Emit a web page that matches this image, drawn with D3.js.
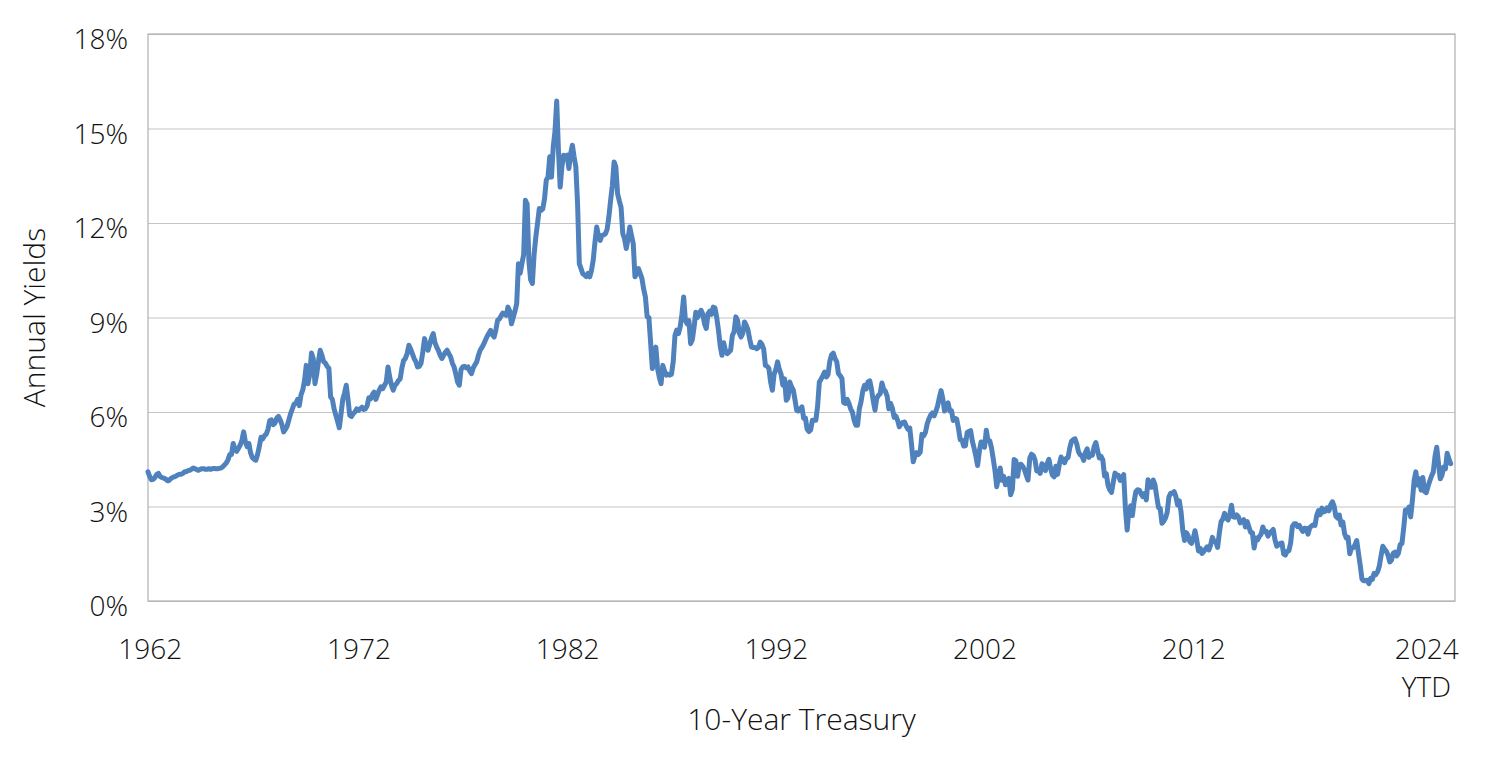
<!DOCTYPE html>
<html>
<head>
<meta charset="utf-8">
<script src="https://cdnjs.cloudflare.com/ajax/libs/d3/7.8.5/d3.min.js"></script>
<style>
  body { margin: 0; background: #fff; }
  text { font-family: "Open Sans", "Noto Sans", sans-serif; font-weight: 300; fill: #111; }
</style>
</head>
<body>
<div id="chart"></div>
<script>
// 10-year Treasury yield (%), month-end, Jan 1962 - Jun 2024
var yields1960s = [
    4.10, 3.95, 3.85, 3.86, 3.92, 4.02, 4.05, 3.95, 3.92, 3.90, 3.88, 3.82,
    3.82, 3.88, 3.92, 3.94, 3.96, 4.00, 4.02, 4.02, 4.05, 4.10, 4.10, 4.14,
    4.15, 4.18, 4.22, 4.20, 4.17, 4.15, 4.18, 4.20, 4.20, 4.18, 4.18, 4.20,
    4.18, 4.20, 4.21, 4.20, 4.20, 4.21, 4.22, 4.26, 4.32, 4.38, 4.48, 4.65,
    4.65, 5.00, 4.80, 4.75, 4.85, 4.95, 5.10, 5.37, 5.05, 4.90, 5.00, 4.70,
    4.55, 4.50, 4.47, 4.65, 4.90, 5.20, 5.15, 5.25, 5.30, 5.45, 5.73, 5.75,
    5.60, 5.65, 5.80, 5.86, 5.75, 5.60, 5.37, 5.45, 5.55, 5.75, 5.95, 6.10,
    6.25, 6.27, 6.40, 6.20, 6.55, 6.70, 7.00, 7.48, 6.90, 7.20, 7.87, 7.70
];
var yields1970s = [
    6.90, 7.20, 7.60, 7.96, 7.80, 7.60, 7.55, 7.45, 7.39, 6.48, 6.40, 6.10,
    5.90, 5.70, 5.50, 5.95, 6.40, 6.60, 6.85, 6.40, 5.90, 5.86, 5.95, 6.00,
    6.10, 6.05, 6.10, 6.15, 6.08, 6.10, 6.20, 6.45, 6.42, 6.55, 6.63, 6.40,
    6.55, 6.70, 6.80, 6.74, 6.85, 6.95, 7.43, 7.10, 6.85, 6.69, 6.85, 6.90,
    7.00, 7.05, 7.40, 7.64, 7.70, 7.85, 8.12, 8.00, 7.85, 7.70, 7.60, 7.43,
    7.45, 7.55, 7.90, 8.33, 8.10, 7.96, 8.15, 8.35, 8.49, 8.20, 8.06, 7.95,
    7.80, 7.70, 7.80, 7.90, 7.96, 7.85, 7.75, 7.55, 7.43, 7.20, 6.95, 6.85,
    7.35, 7.43, 7.45, 7.40, 7.43, 7.30, 7.22, 7.40, 7.50, 7.59, 7.80, 7.96,
    8.05, 8.15, 8.28, 8.40, 8.50, 8.59, 8.45, 8.38, 8.60, 8.91, 8.95, 9.05,
    9.14, 9.10, 9.07, 9.33, 9.20, 8.80, 9.00, 9.20, 9.44, 10.71, 10.40, 10.71
];
var yields1980s = [
    11.00, 12.72, 12.60, 10.80, 10.20, 10.08, 11.00, 11.56, 12.00, 12.46, 12.40, 12.45,
    12.77, 13.36, 13.46, 14.10, 13.46, 14.41, 14.90, 15.87, 14.30, 13.14, 13.80, 14.15,
    14.10, 14.15, 13.73, 14.20, 14.47, 14.10, 13.78, 12.60, 10.71, 10.55, 10.39, 10.35,
    10.30, 10.40, 10.29, 10.50, 10.82, 11.40, 11.87, 11.60, 11.45, 11.60, 11.62, 11.66,
    11.80, 12.20, 12.72, 13.20, 13.94, 13.78, 12.93, 12.70, 12.50, 11.66, 11.50, 11.19,
    11.50, 11.87, 11.60, 11.35, 10.29, 10.40, 10.55, 10.40, 10.24, 9.90, 9.65, 9.02,
    9.00, 8.20, 7.38, 7.70, 8.06, 7.38, 7.10, 6.90, 7.48, 7.30, 7.17, 7.20,
    7.17, 7.20, 7.60, 8.43, 8.60, 8.49, 8.70, 9.10, 9.65, 8.91, 8.80, 8.90,
    8.17, 8.30, 8.70, 9.17, 9.00, 9.12, 9.23, 9.10, 8.80, 8.65, 9.12, 9.20,
    9.10, 9.33, 9.30, 9.00, 8.60, 8.10, 7.80, 8.20, 7.96, 7.85, 7.90, 7.96
];
var yields1990s = [
    8.43, 8.55, 9.02, 8.90, 8.50, 8.38, 8.50, 8.86, 8.75, 8.60, 8.30, 8.06,
    8.05, 8.05, 8.01, 8.05, 8.22, 8.15, 8.00, 7.48, 7.45, 7.38, 6.95, 6.69,
    7.20, 7.35, 7.59, 7.35, 7.20, 6.85, 7.05, 6.37, 6.45, 6.95, 6.80, 6.70,
    6.39, 6.05, 6.03, 6.10, 6.16, 5.80, 5.81, 5.45, 5.38, 5.43, 5.74, 5.74,
    5.74, 6.18, 6.95, 7.04, 7.15, 7.27, 7.11, 7.19, 7.60, 7.81, 7.87, 7.70,
    7.60, 7.22, 7.15, 7.07, 6.30, 6.27, 6.40, 6.28, 6.10, 6.00, 5.74, 5.58,
    5.58, 6.10, 6.33, 6.67, 6.85, 6.73, 6.95, 6.99, 6.72, 6.36, 6.06, 6.43,
    6.53, 6.58, 6.92, 6.72, 6.66, 6.50, 6.10, 6.27, 6.12, 5.83, 5.87, 5.74,
    5.53, 5.62, 5.67, 5.68, 5.55, 5.45, 5.49, 4.98, 4.42, 4.61, 4.71, 4.65,
    4.72, 5.29, 5.24, 5.35, 5.62, 5.78, 5.90, 5.97, 5.88, 6.02, 6.19, 6.45
];
var yields2000s = [
    6.68, 6.42, 6.03, 6.23, 6.29, 6.03, 6.04, 5.73, 5.80, 5.77, 5.48, 5.12,
    5.11, 4.92, 4.93, 5.35, 5.38, 5.41, 5.07, 4.85, 4.60, 4.30, 4.75, 5.05,
    5.03, 4.88, 5.42, 5.09, 5.08, 4.86, 4.51, 4.14, 3.63, 3.93, 4.22, 3.83,
    3.96, 3.69, 3.83, 3.89, 3.37, 3.54, 4.49, 4.45, 3.96, 4.33, 4.34, 4.27,
    4.16, 3.99, 3.84, 4.53, 4.66, 4.62, 4.48, 4.13, 4.14, 4.05, 4.36, 4.24,
    4.14, 4.36, 4.50, 4.21, 4.00, 3.94, 4.28, 4.02, 4.34, 4.57, 4.49, 4.39,
    4.53, 4.55, 4.86, 5.07, 5.12, 5.15, 4.99, 4.74, 4.64, 4.61, 4.46, 4.71,
    4.83, 4.56, 4.65, 4.63, 4.90, 5.03, 4.78, 4.54, 4.59, 4.48, 3.97, 4.04,
    3.67, 3.53, 3.45, 3.77, 4.06, 3.99, 3.99, 3.83, 3.85, 4.01, 2.93, 2.25,
    2.87, 3.02, 2.71, 3.16, 3.47, 3.53, 3.52, 3.40, 3.31, 3.41, 3.21, 3.85
];
var yields2010s = [
    3.63, 3.61, 3.84, 3.69, 3.31, 2.97, 2.94, 2.47, 2.53, 2.63, 2.81, 3.30,
    3.42, 3.42, 3.47, 3.32, 3.05, 3.18, 2.82, 2.23, 1.92, 2.17, 2.08, 1.89,
    1.83, 1.98, 2.23, 1.95, 1.59, 1.67, 1.51, 1.57, 1.65, 1.72, 1.62, 1.78,
    2.02, 1.89, 1.87, 1.70, 2.16, 2.52, 2.60, 2.78, 2.64, 2.57, 2.75, 3.04,
    2.67, 2.66, 2.73, 2.67, 2.48, 2.53, 2.58, 2.35, 2.52, 2.35, 2.18, 2.17,
    1.68, 2.00, 1.94, 2.05, 2.12, 2.35, 2.20, 2.21, 2.06, 2.16, 2.21, 2.27,
    1.94, 1.74, 1.78, 1.83, 1.84, 1.49, 1.46, 1.58, 1.60, 1.84, 2.37, 2.45,
    2.45, 2.36, 2.40, 2.29, 2.21, 2.31, 2.30, 2.12, 2.33, 2.38, 2.42, 2.40,
    2.72, 2.87, 2.74, 2.95, 2.83, 2.85, 2.96, 2.86, 3.05, 3.15, 3.01, 2.69,
    2.63, 2.73, 2.41, 2.51, 2.14, 2.00, 2.02, 1.50, 1.68, 1.69, 1.78, 1.92
];
var yields2020s = [
    1.51, 1.13, 0.70, 0.64, 0.65, 0.66, 0.55, 0.72, 0.69, 0.88, 0.84, 0.93,
    1.11, 1.44, 1.74, 1.65, 1.58, 1.45, 1.24, 1.30, 1.52, 1.55, 1.43, 1.52,
    1.79, 1.83, 2.32, 2.89, 2.85, 2.98, 2.67, 3.19, 3.83, 4.10, 3.68, 3.88,
    3.52, 3.92, 3.48, 3.44, 3.64, 3.81, 3.97, 4.09, 4.59, 4.88, 4.37, 3.88,
    3.99, 4.25, 4.20, 4.69, 4.51, 4.36
];

var yTicks = [0, 3, 6, 9, 12, 15, 18];
var xTickLabels = ["1962", "1972", "1982", "1992", "2002", "2012", "2024"];
var xTickMonths = [1, 121, 241, 361, 481, 601, 735];   // months after Jan 1962
var ytdLabel = "YTD";

var yields = [].concat(yields1960s, yields1970s, yields1980s, yields1990s,
    yields2000s, yields2010s, yields2020s);

var margin = { left: 148, right: 45, top: 34, bottom: 168 };
var width = 1500 - margin.left - margin.right;
var height = 769 - margin.top - margin.bottom;

var svg = d3.select("#chart")
    .append("svg")
    .attr("width", 1500)
    .attr("height", 769);

var g = svg.append("g")
    .attr("transform", "translate(" + margin.left + "," + margin.top + ")");

// Scales
var x = d3.scaleLinear().domain([0, 751.5]).range([0, width]);
var y = d3.scaleLinear().domain([0, 18]).range([height, 0]);

// Y-axis with gridlines
var yAxis = g.append("g")
    .attr("class", "y axis")
    .call(d3.axisLeft(y)
        .tickValues(yTicks)
        .tickSize(-width)
        .tickPadding(20)
        .tickFormat(function(d){ return d + "%"; }));
yAxis.select(".domain").remove();
yAxis.selectAll("line").attr("stroke", "#c4c4c4").attr("stroke-width", 1.2);
yAxis.selectAll("text")
    .attr("font-size", "28px")
    .attr("dy", "0.53em")
    .attr("fill", "#111");

// plot frame
g.append("rect")
    .attr("width", width)
    .attr("height", height)
    .attr("fill", "none")
    .attr("stroke", "#b0b0b0")
    .attr("stroke-width", 1.2);

// X-axis
var xAxis = g.append("g")
    .attr("class", "x axis")
    .attr("transform", "translate(0," + height + ")")
    .call(d3.axisBottom(x)
        .tickValues(xTickMonths)
        .tickSize(0)
        .tickPadding(38)
        .tickFormat(function(d, i){ return xTickLabels[i]; }));
xAxis.select(".domain").remove();
xAxis.selectAll("text")
    .attr("font-size", "28px")
    .attr("fill", "#111");

g.append("text")
    .attr("x", x(xTickMonths[xTickMonths.length - 1]))
    .attr("y", height + 96)
    .attr("font-size", "28px")
    .attr("text-anchor", "middle")
    .text(ytdLabel);

// Yield line
var line = d3.line()
    .x(function(d, i){ return x(i); })
    .y(function(d){ return y(d); });

g.append("path")
    .attr("d", line(yields))
    .attr("fill", "none")
    .attr("stroke", "#4f81bd")
    .attr("stroke-width", 5)
    .attr("stroke-linejoin", "round")
    .attr("stroke-linecap", "round");

// Labels
g.append("text")
    .attr("x", width / 2)
    .attr("y", height + 129)
    .attr("font-size", "30px")
    .attr("text-anchor", "middle")
    .text("10-Year Treasury");

g.append("text")
    .attr("transform", "rotate(-90)")
    .attr("x", -height / 2)
    .attr("y", -margin.left + 45)
    .attr("font-size", "30px")
    .attr("text-anchor", "middle")
    .text("Annual Yields");
</script>
</body>
</html>
